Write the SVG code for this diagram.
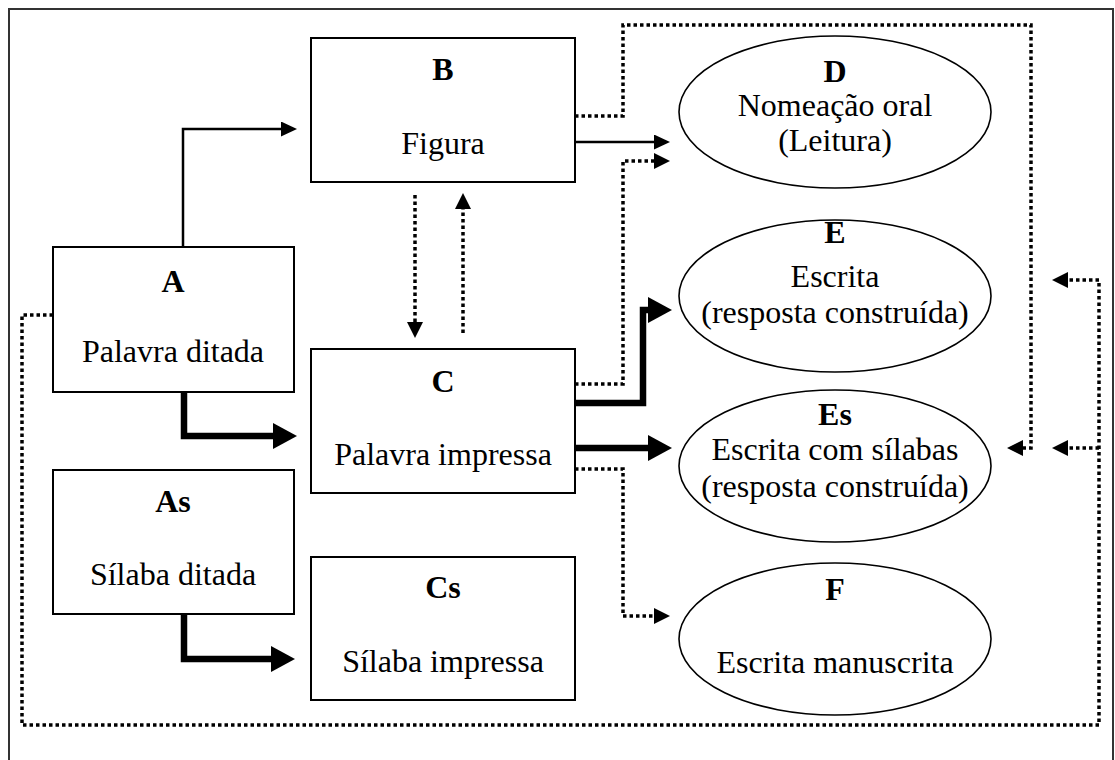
<svg xmlns="http://www.w3.org/2000/svg" width="1115" height="760" viewBox="0 0 1115 760">
<style>
.box{fill:#fff;stroke:#000;stroke-width:2}
.ell{fill:#fff;stroke:#000;stroke-width:1.6}
.lbl{font-family:"Liberation Serif","Times New Roman",serif;font-size:32px;font-weight:bold;text-anchor:middle;fill:#000}
.txt{font-family:"Liberation Serif","Times New Roman",serif;font-size:32px;text-anchor:middle;fill:#000}
.thin{fill:none;stroke:#000;stroke-width:2.5}
.thick{fill:none;stroke:#000;stroke-width:6.5;stroke-linejoin:miter}
.dot{fill:none;stroke:#000;stroke-width:3.5;stroke-dasharray:3.5 3}
</style>
<defs>
<marker id="ah" markerUnits="userSpaceOnUse" markerWidth="16" markerHeight="15" viewBox="0 0 16 15" refX="5" refY="7.5" orient="auto"><path d="M0,0 L16,7.5 L0,15 z" fill="#000"/></marker>
<marker id="ahT" markerUnits="userSpaceOnUse" markerWidth="24" markerHeight="26" viewBox="0 0 24 26" refX="4" refY="13" orient="auto"><path d="M0,0 L24,13 L0,26 z" fill="#000"/></marker>
<marker id="ahD" markerUnits="userSpaceOnUse" markerWidth="16" markerHeight="16" viewBox="0 0 16 16" refX="0" refY="8" orient="auto"><path d="M0,0 L16,8 L0,16 z" fill="#000"/></marker>
</defs>
<rect x="9" y="9" width="1104" height="800" fill="none" stroke="#333" stroke-width="2"/>
<g id="connectors">
<path class="thin" d="M183,247 V129 H286" marker-end="url(#ah)"/>
<path class="thin" d="M575,142 H659" marker-end="url(#ah)"/>
<path class="thick" d="M184,392 V436 H277" marker-end="url(#ahT)"/>
<path class="thick" d="M184,614 V659 H275" marker-end="url(#ahT)"/>
<path class="thick" d="M575,403 H643 V310 H652" marker-end="url(#ahT)"/>
<path class="thick" d="M575,448 H652" marker-end="url(#ahT)"/>
<path class="dot" d="M575,116 H623 V25 H1031 V448 H1023" marker-end="url(#ahD)"/>
<path class="dot" d="M575,384 H623 V161 H654" marker-end="url(#ahD)"/>
<path class="dot" d="M575,469 H623 V616 H654" marker-end="url(#ahD)"/>
<path class="dot" d="M415,195 V322" marker-end="url(#ahD)"/>
<path class="dot" d="M463,333 V209" marker-end="url(#ahD)"/>
<path class="dot" d="M53,315 H22 V725 H1099 V280 H1068" marker-end="url(#ahD)"/>
<path class="dot" d="M1099,448 H1068" marker-end="url(#ahD)"/>
</g>
<g id="nodeB"><rect class="box" x="311" y="38" width="264" height="144"/><text class="lbl" x="443" y="80">B</text><text class="txt" x="443" y="154">Figura</text></g>
<g id="nodeA"><rect class="box" x="53" y="247" width="241" height="145"/><text class="lbl" x="173" y="292">A</text><text class="txt" x="173" y="362">Palavra ditada</text></g>
<g id="nodeC"><rect class="box" x="311" y="349" width="264" height="144"/><text class="lbl" x="443" y="392">C</text><text class="txt" x="443" y="465">Palavra impressa</text></g>
<g id="nodeAs"><rect class="box" x="53" y="470" width="241" height="144"/><text class="lbl" x="173" y="512">As</text><text class="txt" x="173" y="585">Sílaba ditada</text></g>
<g id="nodeCs"><rect class="box" x="311" y="557" width="264" height="143"/><text class="lbl" x="443" y="598">Cs</text><text class="txt" x="443" y="672">Sílaba impressa</text></g>
<g id="nodeD"><ellipse class="ell" cx="835" cy="112" rx="156" ry="76"/><text class="lbl" x="835" y="82">D</text><text class="txt" x="835" y="116">Nomeação oral</text><text class="txt" x="835" y="151">(Leitura)</text></g>
<g id="nodeE"><ellipse class="ell" cx="835" cy="296" rx="156" ry="76"/><text class="lbl" x="835" y="243">E</text><text class="txt" x="835" y="287">Escrita</text><text class="txt" x="835" y="323">(resposta construída)</text></g>
<g id="nodeEs"><ellipse class="ell" cx="835" cy="466" rx="156" ry="76"/><text class="lbl" x="835" y="425">Es</text><text class="txt" x="835" y="460">Escrita com sílabas</text><text class="txt" x="835" y="497">(resposta construída)</text></g>
<g id="nodeF"><ellipse class="ell" cx="835" cy="639" rx="156" ry="76"/><text class="lbl" x="835" y="600">F</text><text class="txt" x="835" y="673">Escrita manuscrita</text></g>
</svg>
